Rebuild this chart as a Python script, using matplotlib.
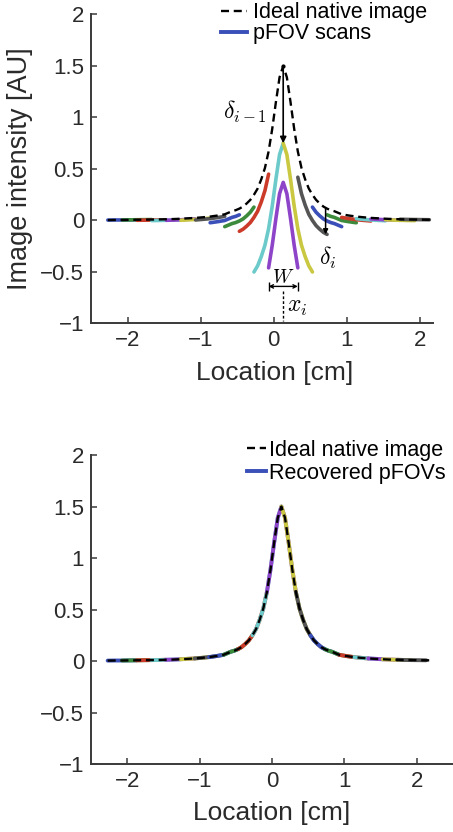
import matplotlib
matplotlib.use("Agg")
import matplotlib.pyplot as plt
from matplotlib.lines import Line2D
import numpy as np

plt.rcParams["font.family"] = ["Liberation Sans", "DejaVu Sans"]
plt.rcParams["mathtext.fontset"] = "cm"

# ideal native image profile
x_ideal = [-2.27, -2.17, -2.07, -1.97, -1.87, -1.77, -1.67, -1.57, -1.47, -1.37,
           -1.27, -1.17, -1.07, -0.97, -0.87, -0.77, -0.67,
           -0.62, -0.57, -0.52, -0.47, -0.42, -0.37, -0.32, -0.27, -0.22, -0.17,
           -0.12, -0.07, -0.02, 0.03, 0.08, 0.13, 0.18, 0.23, 0.28, 0.33,
           0.38, 0.43, 0.48, 0.53, 0.58, 0.63, 0.68, 0.73, 0.78, 0.83, 0.88,
           0.93, 1.03, 1.13, 1.23, 1.33, 1.43, 1.53, 1.63, 1.73, 1.83,
           1.93, 2.03, 2.13, 2.18]
y_ideal = [0.004, 0.005, 0.005, 0.006, 0.007, 0.008, 0.009, 0.010, 0.012, 0.014,
           0.017, 0.021, 0.025, 0.031, 0.038, 0.048, 0.060,
           0.075, 0.090, 0.100, 0.115, 0.135, 0.165, 0.200, 0.250, 0.310, 0.400,
           0.510, 0.670, 0.890, 1.150, 1.390, 1.500, 1.390, 1.150, 0.890, 0.670,
           0.510, 0.400, 0.310, 0.250, 0.200, 0.165, 0.135, 0.115, 0.100, 0.090,
           0.075,
           0.060, 0.048, 0.038, 0.031, 0.025, 0.021, 0.017, 0.014, 0.012, 0.010,
           0.009, 0.008, 0.007, 0.0065]

# pFOV scans: left edge of each window and the DC offset it lost
W = 0.4
scan_start = [-2.27, -2.07, -1.87, -1.67, -1.47, -1.27, -1.07, -0.87, -0.67, -0.47,
              -0.27, -0.07, 0.13, 0.33, 0.53, 0.73, 0.93, 1.13, 1.33, 1.53, 1.73]
scan_offset = [0.0, 0.0, 0.005, 0.01, 0.01, 0.015, 0.02, 0.06, 0.12, 0.22,
               0.75, 1.13, 0.75, 0.25, 0.12, 0.06, 0.03, 0.02, 0.01, 0.01, 0.0]

colors = ["#3a4fb8", "#3c8a3c", "#cc3b2a", "#6ccaca", "#8e44c8", "#c9c840", "#555555"]
yticks = [-1, -0.5, 0, 0.5, 1, 1.5, 2]
ytick_labels = ["\u22121", "\u22120.5", "0", "0.5", "1", "1.5", "2"]
xticks = [-2, -1, 0, 1, 2]
xtick_labels = ["\u22122", "\u22121", "0", "1", "2"]

xs = np.array(x_ideal)
ys = np.array(y_ideal)

fig = plt.figure(figsize=(4.53, 8.32), dpi=100)
ax1 = fig.add_axes([0.2009, 0.6112, 0.755, 0.3714])
ax2 = fig.add_axes([0.2009, 0.0817, 0.799, 0.3714])

for k, (s, off) in enumerate(zip(scan_start, scan_offset)):
    m = (xs >= s - 1e-6) & (xs <= s + W + 1e-6)
    c = colors[k % len(colors)]
    ax1.plot(xs[m], ys[m] - off, color=c, lw=2.6, solid_capstyle="round")
    ax2.plot(xs[m], ys[m], color=c, lw=2.8, solid_capstyle="round")

for ax in (ax1, ax2):
    ax.plot(xs, ys, color="k", lw=1.7, dashes=(3.4, 2.0))
    ax.set_ylim(-1, 2)
    ax.set_yticks(yticks)
    ax.set_yticklabels(ytick_labels)
    ax.set_xticks(xticks)
    ax.set_xticklabels(xtick_labels)
    for side in ("top", "right"):
        ax.spines[side].set_visible(False)
    for side in ("left", "bottom"):
        ax.spines[side].set_linewidth(1.4)
        ax.spines[side].set_color("#3a3a3a")
    ax.tick_params(direction="in", length=4, width=1.1, color="#3a3a3a",
                   labelsize=16, labelcolor="#2a2a2a", pad=5)

ax1.set_xlim(-2.5, 2.18)
ax2.set_xlim(-2.5, 2.5)
ax1.set_ylabel("Image intensity [AU]", fontsize=19.5, color="#2a2a2a", labelpad=5)
ax1.set_xlabel("Location [cm]", fontsize=19, color="#2a2a2a")
ax1.xaxis.set_label_coords(0.538, -0.12)
ax2.set_xlabel("Location [cm]", fontsize=19, color="#2a2a2a")
ax2.xaxis.set_label_coords(0.5, -0.12)

# annotations on the pFOV panel
peak = int(np.argmax(ys))
px, py = xs[peak], ys[peak]
ax1.annotate("", xy=(px, py - scan_offset[10]), xytext=(px, py),
             arrowprops=dict(arrowstyle="-|>", color="k", lw=1.2,
                             mutation_scale=9, shrinkA=0, shrinkB=0))
ax1.plot(px, py, "k.", ms=4)
ax1.text(-0.09, 1.05, r"$\delta_{i-1}$", ha="right", va="center", fontsize=17)

j = 13
xe = scan_start[j] + W
ye = ys[np.argmin(abs(xs - xe))]
ax1.annotate("", xy=(xe - 0.02, ye - scan_offset[j]), xytext=(xe - 0.02, ye),
             arrowprops=dict(arrowstyle="-|>", color="k", lw=1.1,
                             mutation_scale=7, shrinkA=0, shrinkB=0))
ax1.text(0.74, -0.36, r"$\delta_i$", ha="center", va="center", fontsize=17)

i = 11
w0, w1 = scan_start[i], scan_start[i] + W
ax1.annotate("", xy=(w0, -0.64), xytext=(w1, -0.64),
             arrowprops=dict(arrowstyle="<->", color="k", lw=1.0,
                             mutation_scale=6, shrinkA=0, shrinkB=0))
ax1.vlines([w0, w1], -0.6, -0.68, color="k", lw=1.0)
ax1.text((w0 + w1) / 2, -0.555, r"$W$", ha="center", va="center", fontsize=14)
ax1.plot([(w0 + w1) / 2] * 2, [-0.68, -0.98], color="k", lw=1.0, dashes=(2, 1.5))
ax1.text((w0 + w1) / 2 + 0.05, -0.84, r"$x_i$", ha="left", va="center", fontsize=17)

ideal_h = Line2D([], [], color="k", lw=1.7, dashes=(3.4, 2.0))
scan_h = Line2D([], [], color=colors[0], lw=2.8)
ax1.legend([ideal_h, scan_h], ["Ideal native image", "pFOV scans"],
           loc="upper left", bbox_to_anchor=(0.38, 1.04), frameon=False,
           fontsize=15.5, handlelength=1.2, handletextpad=0.3, labelspacing=0.0,
           borderpad=0, borderaxespad=0)
ax2.legend([ideal_h, scan_h], ["Ideal native image", "Recovered pFOVs"],
           loc="upper left", bbox_to_anchor=(0.43, 1.05), frameon=False,
           fontsize=15.5, handlelength=0.9, handletextpad=0.15, labelspacing=0.1,
           borderpad=0, borderaxespad=0)

fig.savefig("out.png", dpi=100)
